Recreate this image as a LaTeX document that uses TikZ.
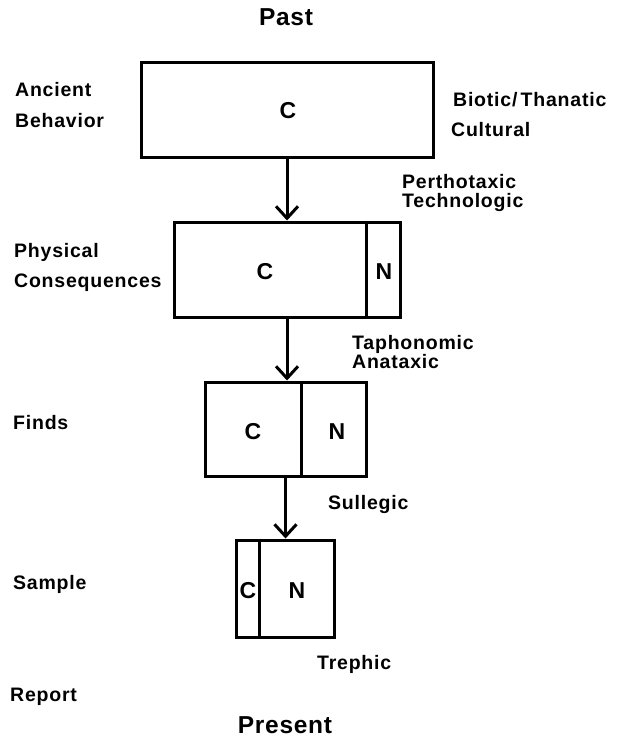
\documentclass[tikz,border=0pt]{standalone}
\usepackage{fontspec}
\setmainfont{Liberation Sans}
\usetikzlibrary{arrows.meta,calc}
\tikzset{
  lbl/.style={font=\bfseries\fontsize{19.5}{22}\selectfont\addfontfeature{LetterSpace=4}, inner sep=0pt, text height=14pt, text depth=0pt, anchor=west},
  big/.style={font=\bfseries\fontsize{24.5}{28}\selectfont\addfontfeature{LetterSpace=3}, inner sep=0pt, text height=17.5pt, text depth=0pt},
  letter/.style={font=\bfseries\fontsize{23}{26}\selectfont, inner sep=0pt, text height=16.5pt, text depth=0pt},
  stagebox/.style={draw, line width=3pt, inner sep=0pt},
  link/.style={line width=3pt, -{Straight Barb[length=12pt,width=22pt,line width=3pt]}},
  divider/.style={line width=3pt}
}
\begin{document}
\begin{tikzpicture}[x=1pt,y=-1pt]
\path[fill=white] (0,0) rectangle (623,738);
\useasboundingbox (0,0) rectangle (623,738);

% boxes
\node[stagebox, minimum width=292pt, minimum height=95pt] (b1) at (287,110.5) {};
\node[stagebox, minimum width=226pt, minimum height=95pt] (b2) at (287,269.5) {};
\node[stagebox, minimum width=161pt, minimum height=94pt] (b3) at (285.5,429) {};
\node[stagebox, minimum width=98pt, minimum height=97pt] (b4) at (285,588.5) {};

% dividers
\draw[divider] ($(b2.north west)+(194,0)$) -- ($(b2.south west)+(194,0)$);
\draw[divider] ($(b3.north west)+(98,0)$) -- ($(b3.south west)+(98,0)$);
\draw[divider] ($(b4.north west)+(25,0)$) -- ($(b4.south west)+(25,0)$);

% letters
\node[letter] (c1) at (288,110) {C};
\node[letter] (c2) at (265,271) {C};
\node[letter] (n2) at (384,271) {N};
\node[letter] (c3) at (253,431) {C};
\node[letter] (n3) at (337,431) {N};
\node[letter] (c4) at (248,590) {C};
\node[letter] (n4) at (297,590) {N};

% connectors
\draw[link] (b1.south) -- (b1.south |- b2.north);
\draw[link] (b2.south) -- (b2.south |- b3.north);
\draw[link] (b3.south) -- (b3.south |- b4.north);

% time labels
\node[big] (past) at (286,17) {Past};
\node[big] (present) at (285,725) {Present};

% stage labels (left)
\node[lbl] (anc1) at (15,90) {Ancient};
\node[lbl] (anc2) at (15,121) {Behavior};
\node[lbl] (phy1) at (14,250) {Physical};
\node[lbl] (phy2) at (14,280) {Consequences};
\node[lbl] (finds) at (13,422) {Finds};
\node[lbl] (sample) at (13,582) {Sample};
\node[lbl] (report) at (10,694) {Report};

% process labels (right)
\node[lbl] (bio) at (453,100) {Biotic/\,Thanatic};
\node[lbl] (cult) at (451,130) {Cultural};
\node[lbl] (per) at (402,181) {Perthotaxic};
\node[lbl] (tech) at (402,200) {Technologic};
\node[lbl] (taph) at (352,342) {Taphonomic};
\node[lbl] (anat) at (352,361) {Anataxic};
\node[lbl] (sull) at (328,502) {Sullegic};
\node[lbl] (treph) at (317,662) {Trephic};
\end{tikzpicture}
\end{document}
